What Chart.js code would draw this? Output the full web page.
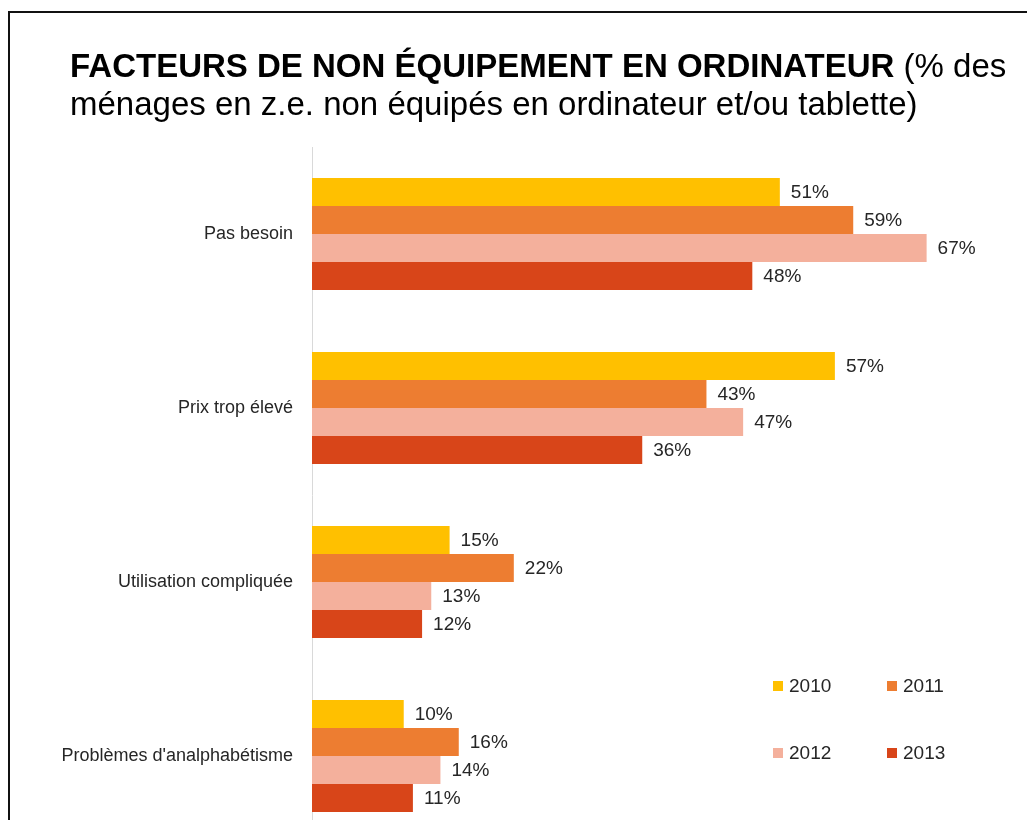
<!DOCTYPE html>
<html lang="fr">
<head>
<meta charset="utf-8">
<title>Facteurs de non équipement en ordinateur</title>
<script src="https://cdn.jsdelivr.net/npm/chart.js@4/dist/chart.umd.min.js"></script>
<style>
  html, body { margin: 0; padding: 0; background: #fff; overflow: hidden; }
  #frame {
    position: absolute; left: 8px; top: 11px; width: 1030px; height: 900px;
    border-left: 2px solid #111; border-top: 2px solid #111;
  }
  #title {
    position: absolute; left: 70px; top: 47px; z-index: 2;
    font-family: "Liberation Sans", Arial, sans-serif; font-size: 33px;
    line-height: 38px; color: #000; white-space: nowrap;
  }
  #title b { font-weight: bold; }
  #wrap { position: absolute; left: 0; top: 0; width: 1027px; height: 900px; }
</style>
</head>
<body>
<div id="frame"></div>
<div id="title"><b>FACTEURS DE NON ÉQUIPEMENT EN ORDINATEUR</b> (% des<br>ménages en z.e. non équipés en ordinateur et/ou tablette)</div>
<div id="wrap"><canvas id="chart"></canvas></div>
<script>
// Data
const categories = [
  "Pas besoin",
  "Prix trop élevé",
  "Utilisation compliquée",
  "Problèmes d'analphabétisme",
];
const years = ["2010", "2011", "2012", "2013"];
const values2010 = [51, 57, 15, 10];
const values2011 = [59, 43, 22, 16];
const values2012 = [67, 47, 13, 14];
const values2013 = [48, 36, 12, 11];
const colors = ["#FFC000", "#ED7D31", "#F4B09C", "#D84519"];

const FONT = "'Liberation Sans', Arial, sans-serif";
const TEXT_COLOR = "#262626";

// Value labels at bar ends
const valueLabels = {
  id: "valueLabels",
  afterDatasetsDraw(chart) {
    const ctx = chart.ctx;
    ctx.save();
    ctx.font = `19px ${FONT}`;
    ctx.fillStyle = TEXT_COLOR;
    ctx.textAlign = "left";
    ctx.textBaseline = "middle";
    chart.data.datasets.forEach((ds, i) => {
      chart.getDatasetMeta(i).data.forEach((bar, j) => {
        ctx.fillText(`${ds.data[j]}%`, bar.x + 11, bar.y + 1);
      });
    });
    ctx.restore();
  },
};

// Legend in 2 x 2 grid, lower right of plot
const gridLegend = {
  id: "gridLegend",
  afterDraw(chart) {
    const ctx = chart.ctx;
    const cols = [773, 887];
    const rows = [686, 753];
    ctx.save();
    ctx.font = `19px ${FONT}`;
    ctx.textAlign = "left";
    ctx.textBaseline = "middle";
    chart.data.datasets.forEach((ds, i) => {
      const x = cols[i % 2];
      const y = rows[Math.floor(i / 2)];
      ctx.fillStyle = ds.backgroundColor;
      ctx.fillRect(x, y - 5, 10, 10);
      ctx.fillStyle = TEXT_COLOR;
      ctx.fillText(ds.label, x + 16, y + 1);
    });
    ctx.restore();
  },
};

const seriesValues = [values2010, values2011, values2012, values2013];

const ctx = document.getElementById("chart").getContext("2d");
new Chart(ctx, {
  type: "bar",
  data: {
    labels: categories,
    datasets: years.map((y, i) => ({
      label: y,
      data: seriesValues[i],
      backgroundColor: colors[i],
      borderWidth: 0,
      barPercentage: 1,
      categoryPercentage: 0.644,
    })),
  },
  options: {
    indexAxis: "y",
    responsive: true,
    maintainAspectRatio: false,
    animation: false,
    layout: { padding: { top: 147, bottom: 57, right: 27, left: 0 } },
    plugins: {
      legend: { display: false },
      tooltip: { enabled: false },
    },
    scales: {
      x: { display: false, min: 0, max: 75 },
      y: {
        grid: { display: false, drawTicks: false },
        border: { display: true, color: "#d9d9d9", width: 1 },
        ticks: { color: TEXT_COLOR, font: { family: FONT, size: 18 }, padding: 19 },
        afterFit(scale) { scale.width = 312; },
      },
    },
  },
  plugins: [valueLabels, gridLegend],
});
</script>
</body>
</html>
